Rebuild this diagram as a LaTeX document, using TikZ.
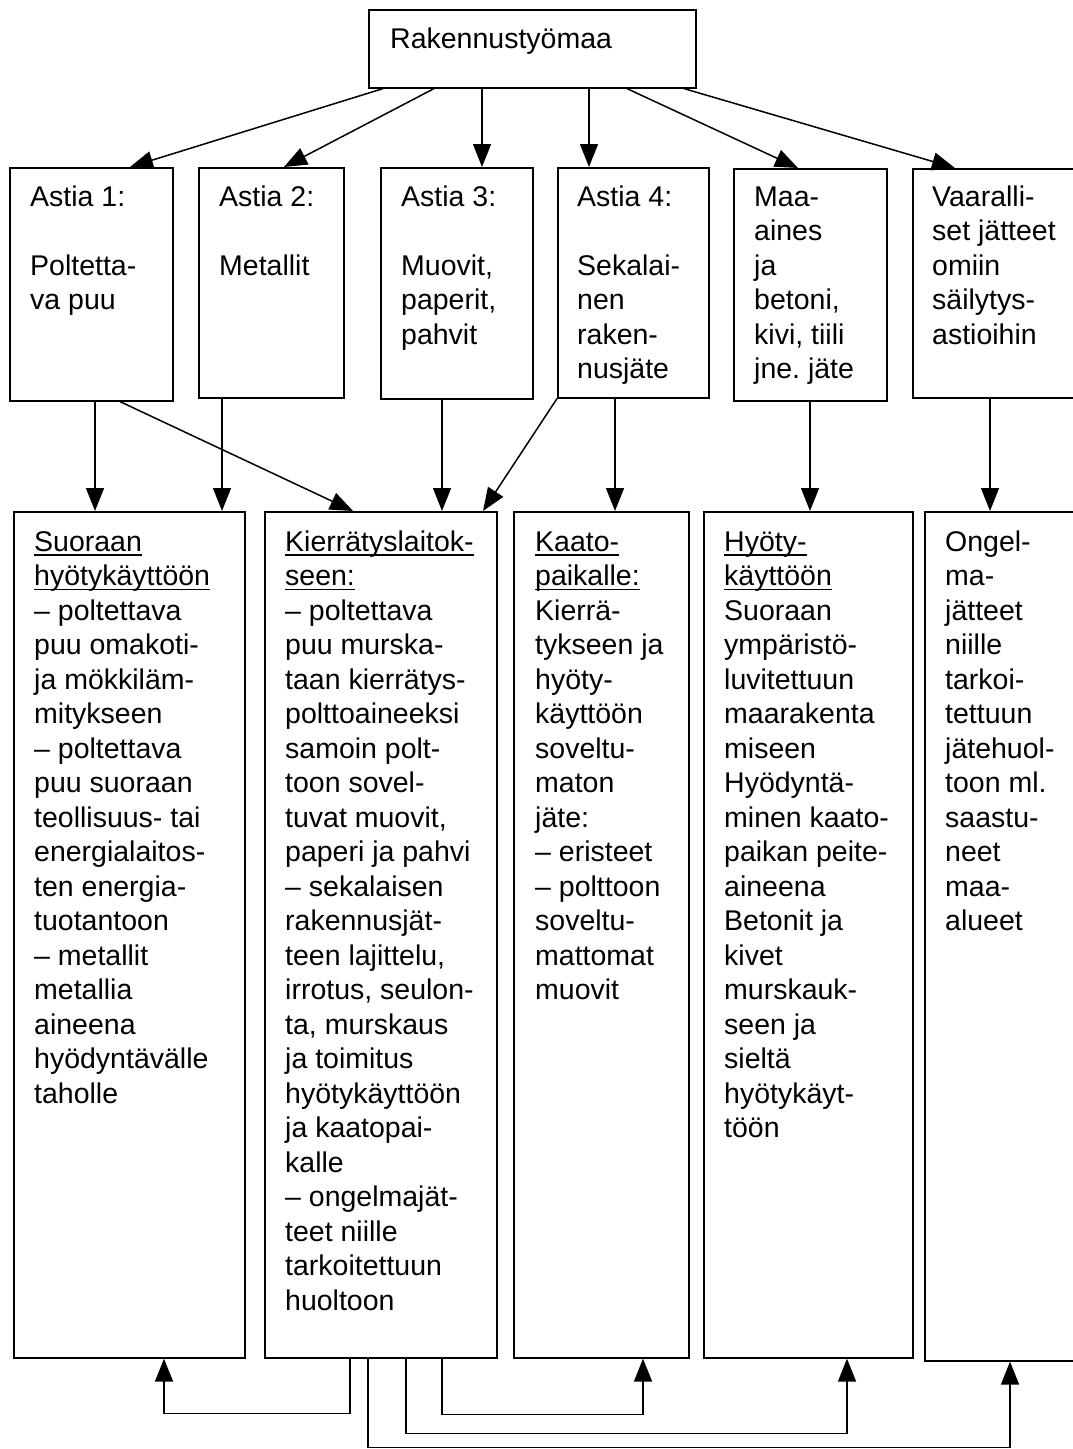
\documentclass[tikz,border=0pt]{standalone}
\usepackage{fontspec}
\setmainfont{Liberation Sans}
\usetikzlibrary{arrows.meta,calc}
\newcommand\myul[1]{\setbox0\hbox{#1}\rlap{\rule[-4.5pt]{\wd0}{1.5pt}}\box0}
\newcommand\bodyfont{\fontsize{28.5}{34.5}\selectfont\frenchspacing}
\begin{document}
\begin{tikzpicture}[x=1pt,y=-1pt,
  box/.style={draw, line width=1.6pt, inner sep=0pt, anchor=north west},
  txt/.style={anchor=north west, inner sep=0pt, align=left, font=\bodyfont},
  arr/.style={line width=1.5pt, -{Triangle[length=23pt,width=18pt]}}]
\useasboundingbox (0,0) rectangle (1073,1449);
\clip (0,0) rectangle (1073,1449);
\fill[white] (0,0) rectangle (1073,1449);

% boxes
\node[box, minimum width=327pt, minimum height=78pt] (top) at (368,9) {};
\node[box, minimum width=163pt, minimum height=233pt] (b1) at (9,167) {};
\node[box, minimum width=145pt, minimum height=230pt] (b2) at (198,167) {};
\node[box, minimum width=152pt, minimum height=231pt] (b3) at (380,167) {};
\node[box, minimum width=151pt, minimum height=230pt] (b4) at (557,167) {};
\node[box, minimum width=153pt, minimum height=232pt] (b5) at (733,168) {};
\node[box, minimum width=200pt, minimum height=229pt] (b6) at (912,168) {};
\node[box, minimum width=231pt, minimum height=846pt] (bA) at (13,511) {};
\node[box, minimum width=232pt, minimum height=846pt] (bB) at (264,511) {};
\node[box, minimum width=175pt, minimum height=846pt] (bC) at (513,511) {};
\node[box, minimum width=209pt, minimum height=846pt] (bD) at (703,511) {};
\node[box, minimum width=200pt, minimum height=849pt] (bE) at (924,511) {};

% texts
\node[txt] (ttop) at (390,23.85) {\strut Rakennustyömaa};
\node[txt] (t1) at (30,182) {\strut Astia 1:\\[34.5pt]Poltetta-\\va puu};
\node[txt] (t2) at (219,182) {\strut Astia 2:\\[34.5pt]Metallit};
\node[txt] (t3) at (401,182) {\strut Astia 3:\\[34.5pt]Muovit,\\paperit,\\pahvit};
\node[txt] (t4) at (577,182) {\strut Astia 4:\\[34.5pt]Sekalai-\\nen\\raken-\\nusjäte};
\node[txt] (t5) at (754,182) {\strut Maa-\\aines\\ja\\betoni,\\kivi, tiili\\jne. jäte};
\node[txt] (t6) at (932,182) {\strut Vaaralli-\\set jätteet\\omiin\\säilytys-\\astioihin};

\node[txt] (tA) at (34,527) {\strut\myul{Suoraan}\\\myul{hyötykäyttöön}\\– poltettava\\puu omakoti-\\ja mökkiläm-\\mitykseen\\– poltettava\\puu suoraan\\teollisuus- tai\\energialaitos-\\ten energia-\\tuotantoon\\– metallit\\metallia\\aineena\\hyödyntävälle\\taholle};
\node[txt] (tB) at (285,527) {\strut\myul{Kierrätyslaitok-}\\\myul{seen:}\\– poltettava\\puu murska-\\taan kierrätys-\\polttoaineeksi\\samoin polt-\\toon sovel-\\tuvat muovit,\\paperi ja pahvi\\– sekalaisen\\rakennusjät-\\teen lajittelu,\\irrotus, seulon-\\ta, murskaus\\ja toimitus\\hyötykäyttöön\\ja kaatopai-\\kalle\\– ongelmajät-\\teet niille\\tarkoitettuun\\huoltoon};
\node[txt] (tC) at (535,527) {\strut\myul{Kaato-}\\\myul{paikalle:}\\Kierrä-\\tykseen ja\\hyöty-\\käyttöön\\soveltu-\\maton\\jäte:\\– eristeet\\– polttoon\\soveltu-\\mattomat\\muovit};
\node[txt] (tD) at (724,527) {\strut\myul{Hyöty-}\\\myul{käyttöön}\\Suoraan\\ympäristö-\\luvitettuun\\maarakenta\\miseen\\Hyödyntä-\\minen kaato-\\paikan peite-\\aineena\\Betonit ja\\kivet\\murskauk-\\seen ja\\sieltä\\hyötykäyt-\\töön};
\node[txt] (tE) at (945,527) {\strut Ongel-\\ma-\\jätteet\\niille\\tarkoi-\\tettuun\\jätehuol-\\toon ml.\\saastu-\\neet\\maa-\\alueet};

% arrows from top
\draw[arr] (top.south -| 383,0) -- (b1.north -| 130,0);
\draw[arr] (top.south -| 434,0) -- (b2.north -| 284,0);
\draw[arr] (top.south -| 482,0) -- (b3.north -| 482,0);
\draw[arr] (top.south -| 589,0) -- (b4.north -| 589,0);
\draw[arr] (top.south -| 627,0) -- (b5.north -| 798,0);
\draw[arr] (top.south -| 684,0) -- (b6.north -| 955,0);

% middle arrows
\draw[arr] (b1.south -| 95,0) -- (bA.north -| 95,0);
\draw[arr] (b1.south -| 120,0) -- (bB.north -| 353,0);
\draw[arr] (b2.south -| 222,0) -- (bA.north -| 222,0);
\draw[arr] (b3.south -| 442,0) -- (bB.north -| 442,0);
\draw[arr] (b4.south west) -- (bB.north -| 483,0);
\draw[arr] (b4.south -| 615,0) -- (bC.north -| 615,0);
\draw[arr] (b5.south -| 810,0) -- (bD.north -| 810,0);
\draw[arr] (b6.south -| 990,0) -- (bE.north -| 990,0);

% bottom connectors
\draw[arr] (bB.south -| 350,0) -- ++(0,55) -| (bA.south -| 164,0);
\draw[arr] (bB.south -| 442,0) -- ++(0,56) -| (bC.south -| 643,0);
\draw[arr] (bB.south -| 406,0) -- ++(0,75) -| (bD.south -| 847,0);
\draw[arr] (bB.south -| 368,0) -- ++(0,89) -| (bE.south -| 1010,0);
\end{tikzpicture}
\end{document}
